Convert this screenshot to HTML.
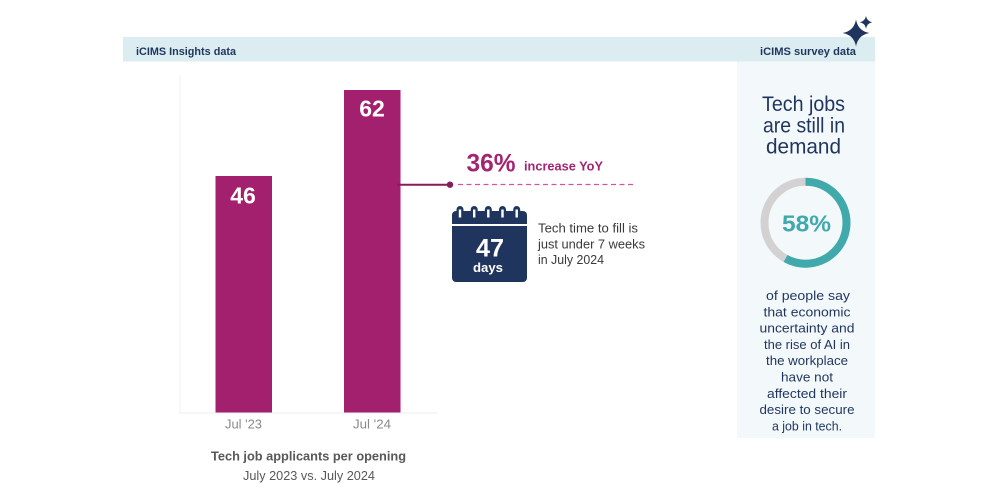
<!DOCTYPE html>
<html>
<head>
<meta charset="utf-8">
<style>
  html,body{margin:0;padding:0;background:#ffffff;}
  svg{display:block;}
  text{font-family:"Liberation Sans", Arial, sans-serif;}
</style>
</head>
<body>
<svg width="1000" height="500" viewBox="0 0 1000 500" xmlns="http://www.w3.org/2000/svg">
  <rect x="0" y="0" width="1000" height="500" fill="#ffffff"/>

  <!-- header bar -->
  <rect x="123" y="37" width="752" height="24.5" fill="#dbedf1"/>
  <text x="136" y="55" font-size="11" font-weight="bold" fill="#1f355e" textLength="100" lengthAdjust="spacingAndGlyphs">iCIMS Insights data</text>
  <text x="760" y="55" font-size="11" font-weight="bold" fill="#1f355e" textLength="96" lengthAdjust="spacingAndGlyphs">iCIMS survey data</text>

  <!-- right panel -->
  <rect x="737" y="61.5" width="138" height="376.5" fill="#f3f8fb"/>

  <!-- stars -->
  <path d="M856 19.5 Q858 31 869.5 33 Q858 35 856 46.5 Q854 35 842.5 33 Q854 31 856 19.5 Z" fill="#1f355e"/>
  <path d="M866 16 Q867 21.3 872.3 22.3 Q867 23.3 866 28.6 Q865 23.3 859.7 22.3 Q865 21.3 866 16 Z" fill="#1f355e"/>

  <!-- chart axes -->
  <line x1="180" y1="75" x2="180" y2="413" stroke="#f2f2f2" stroke-width="1"/>
  <line x1="179" y1="413" x2="438" y2="413" stroke="#eeeeee" stroke-width="1"/>

  <!-- bars -->
  <rect x="215.5" y="176" width="56.5" height="236.5" fill="#a3206f"/>
  <rect x="344" y="90" width="56.5" height="322.5" fill="#a3206f"/>
  <line x1="400.5" y1="90" x2="400.5" y2="412.5" stroke="#d58ab6" stroke-width="1"/>
  <text x="243" y="203.5" font-size="23" font-weight="bold" fill="#ffffff" text-anchor="middle">46</text>
  <text x="372" y="116.7" font-size="23" font-weight="bold" fill="#ffffff" text-anchor="middle">62</text>

  <!-- axis labels -->
  <text x="243.5" y="428.5" font-size="13" fill="#8a8a8a" text-anchor="middle" textLength="37" lengthAdjust="spacingAndGlyphs">Jul '23</text>
  <text x="372" y="428.5" font-size="13" fill="#8a8a8a" text-anchor="middle" textLength="38" lengthAdjust="spacingAndGlyphs">Jul '24</text>

  <text x="308.5" y="460.5" font-size="13" font-weight="bold" fill="#585858" text-anchor="middle" textLength="195" lengthAdjust="spacingAndGlyphs">Tech job applicants per opening</text>
  <text x="309" y="480" font-size="13" fill="#585858" text-anchor="middle" textLength="132" lengthAdjust="spacingAndGlyphs">July 2023 vs. July 2024</text>

  <!-- connector -->
  <line x1="397" y1="184.7" x2="450" y2="184.7" stroke="#861c5b" stroke-width="2"/>
  <circle cx="450" cy="184.7" r="3.2" fill="#861c5b"/>
  <line x1="458" y1="184.5" x2="633" y2="184.5" stroke="#d3539d" stroke-width="1.3" stroke-dasharray="5,3.5"/>

  <text x="466.5" y="171.7" font-size="25" font-weight="bold" fill="#a42472" textLength="49" lengthAdjust="spacingAndGlyphs">36%</text>
  <text x="524" y="170.3" font-size="13" font-weight="bold" fill="#a42472" textLength="79" lengthAdjust="spacingAndGlyphs">increase YoY</text>

  <!-- calendar -->
  <rect x="452" y="211" width="75" height="71" rx="4" ry="4" fill="#1f355e"/>
  <g fill="#1f355e">
    <rect x="456.5" y="206" width="7" height="12" rx="3.5"/>
    <rect x="470.7" y="206" width="7" height="12" rx="3.5"/>
    <rect x="484.8" y="206" width="7" height="12" rx="3.5"/>
    <rect x="499" y="206" width="7" height="12" rx="3.5"/>
    <rect x="513.2" y="206" width="7" height="12" rx="3.5"/>
  </g>
  <g fill="#ffffff">
    <rect x="458.8" y="209.5" width="2.4" height="8"/>
    <rect x="473" y="209.5" width="2.4" height="8"/>
    <rect x="487.1" y="209.5" width="2.4" height="8"/>
    <rect x="501.3" y="209.5" width="2.4" height="8"/>
    <rect x="515.5" y="209.5" width="2.4" height="8"/>
  </g>
  <rect x="452" y="224" width="75" height="2" fill="#ffffff"/>
  <text x="490" y="256.7" font-size="25" font-weight="bold" fill="#ffffff" text-anchor="middle" textLength="28" lengthAdjust="spacingAndGlyphs">47</text>
  <text x="488" y="272" font-size="13" font-weight="bold" fill="#ffffff" text-anchor="middle" textLength="30" lengthAdjust="spacingAndGlyphs">days</text>

  <text x="538" y="232.5" font-size="12.5" fill="#3a3a3a" textLength="100" lengthAdjust="spacingAndGlyphs">Tech time to fill is</text>
  <text x="538" y="248.5" font-size="12.5" fill="#3a3a3a" textLength="107" lengthAdjust="spacingAndGlyphs">just under 7 weeks</text>
  <text x="538" y="264" font-size="12.5" fill="#3a3a3a" textLength="66" lengthAdjust="spacingAndGlyphs">in July 2024</text>

  <!-- right panel content -->
  <g font-size="21" fill="#1f355e" text-anchor="middle">
    <text x="803.5" y="111" textLength="83" lengthAdjust="spacingAndGlyphs">Tech jobs</text>
    <text x="804" y="132.5" textLength="82" lengthAdjust="spacingAndGlyphs">are still in</text>
    <text x="803.5" y="153.3" textLength="75" lengthAdjust="spacingAndGlyphs">demand</text>
  </g>

  <circle cx="805.5" cy="222.7" r="41" fill="none" stroke="#d4d1d3" stroke-width="8"/>
  <circle cx="805.5" cy="222.7" r="41" fill="none" stroke="#3fa9ab" stroke-width="8"
          stroke-dasharray="149.4 400" transform="rotate(-90 805.5 222.7)"/>
  <text x="806.5" y="231.7" font-size="23" font-weight="bold" fill="#3fa9ab" text-anchor="middle" textLength="49" lengthAdjust="spacingAndGlyphs">58%</text>

  <g font-size="13" fill="#1f355e" text-anchor="middle">
    <text x="808" y="300" textLength="84" lengthAdjust="spacingAndGlyphs">of people say</text>
    <text x="807" y="316.3" textLength="87" lengthAdjust="spacingAndGlyphs">that economic</text>
    <text x="807" y="332.6" textLength="95" lengthAdjust="spacingAndGlyphs">uncertainty and</text>
    <text x="807" y="348.9" textLength="86" lengthAdjust="spacingAndGlyphs">the rise of AI in</text>
    <text x="807" y="365.2" textLength="82" lengthAdjust="spacingAndGlyphs">the workplace</text>
    <text x="807" y="381.5" textLength="52" lengthAdjust="spacingAndGlyphs">have not</text>
    <text x="807" y="397.8" textLength="80" lengthAdjust="spacingAndGlyphs">affected their</text>
    <text x="807" y="414.1" textLength="95" lengthAdjust="spacingAndGlyphs">desire to secure</text>
    <text x="807" y="430.4" textLength="70" lengthAdjust="spacingAndGlyphs">a job in tech.</text>
  </g>
</svg>
</body>
</html>
